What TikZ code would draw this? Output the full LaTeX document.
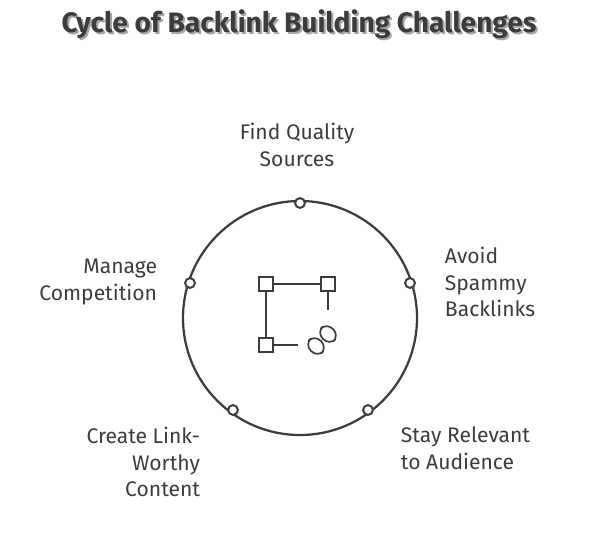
\documentclass[tikz,border=0pt]{standalone}
\usepackage{fontspec}
\setmainfont{Fira Sans}
\definecolor{ink}{RGB}{60,60,60}
\tikzset{stage/.style={font=\fontsize{15}{19}\selectfont,text=ink,align=center}}
\tikzset{dot/.style={circle,draw=ink,line width=1.4pt,fill=white,inner sep=0pt,minimum size=7pt}}
\tikzset{box/.style={draw=ink,line width=1.2pt,fill=white,inner sep=0pt,minimum size=10pt}}
\tikzset{link/.style={draw=ink,line width=1.2pt,rounded corners=6pt,minimum width=18*0.025cm,minimum height=14*0.025cm,inner sep=0pt,rotate=-45}}
\begin{document}
\begin{tikzpicture}[x=0.025cm,y=-0.025cm]
  \useasboundingbox (0,0) rectangle (611,539);
  \node[font=\fontsize{20}{24}\selectfont\bfseries,text=black!35] at (301,26) {Cycle of Backlink Building Challenges};
  \node[font=\fontsize{20}{24}\selectfont\bfseries,text=ink] (title) at (299,24) {Cycle of Backlink Building Challenges};
  \node[circle,draw=ink,line width=1.6pt,minimum size=234*0.025cm] (ring) at (300,318) {};
  %% points on the ring
  \node[dot] (p1) at (300,203) {};
  \node[dot] (p2) at (410,283) {};
  \node[dot] (p3) at (368,410) {};
  \node[dot] (p4) at (233,410) {};
  \node[dot] (p5) at (190,283) {};
  %% labels
  \node[stage] (l1) at (297,145) {Find Quality\\Sources};
  \node[stage,align=left,anchor=west] (l2) at (440,282) {Avoid\\Spammy\\Backlinks};
  \node[stage,align=left,anchor=west] (l3) at (396,448) {Stay Relevant\\to Audience};
  \node[stage,align=right,anchor=east] (l4) at (205,462) {Create Link-\\Worthy\\Content};
  \node[stage,align=right,anchor=east] (l5) at (162,282) {Manage\\Competition};
  %% icon
  \node[box] (b1) at (266,284) {};
  \node[box] (b2) at (328,284) {};
  \node[box] (b3) at (266,345) {};
  \draw[ink,line width=1.2pt] (b1) -- (b2);
  \draw[ink,line width=1.2pt] (b1) -- (b3);
  \coordinate (c2) at (328,310);
  \coordinate (c3) at (298,345);
  \draw[ink,line width=1.2pt] (b2) -- (c2);
  \draw[ink,line width=1.2pt] (b3) -- (c3);
  \node[link] (k1) at (316,346) {};
  \node[link] (k2) at (328,334) {};
\end{tikzpicture}
\end{document}
